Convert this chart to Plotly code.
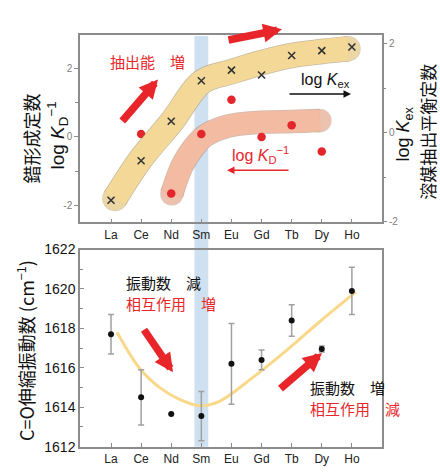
import plotly.graph_objects as go

# ---------------- data ----------------
elements = ["La", "Ce", "Nd", "Sm", "Eu", "Gd", "Tb", "Dy", "Ho"]
elem_idx = list(range(len(elements)))

# top panel: log Kex (right axis, crosses)
log_kex = [-1.52, -0.63, 0.26, 1.17, 1.41, 1.30, 1.74, 1.85, 1.93]
# top panel: log KD^-1 (left axis, red dots), Ce..Dy
kd_idx = [1, 2, 3, 4, 5, 6, 7]
log_kd_inv = [0.09, -1.66, 0.09, 1.09, 0.00, 0.34, -0.43]

# highlight bands (trend guides)
kex_band_x = [0.13, 0.97, 2.03, 3.03, 4.03, 5.0, 6.0, 7.0, 7.87]
kex_band_y = [-1.48, -0.61, 0.26, 1.15, 1.38, 1.58, 1.74, 1.83, 1.89]
kd_band_x = [2.02, 2.36, 2.72, 3.12, 3.85, 4.95, 6.04, 6.94]
kd_band_y = [-1.67, -0.85, -0.34, 0.03, 0.31, 0.43, 0.45, 0.48]

# bottom panel: C=O stretching frequency
freq = [1617.7, 1614.5, 1613.65, 1613.55, 1616.2, 1616.4, 1618.4, 1616.95, 1619.9]
freq_err = [1.0, 1.4, 0.0, 1.25, 2.05, 0.5, 0.8, 0.15, 1.2]
trend_x = [0.2, 0.96, 1.63, 2.29, 2.95, 3.6, 4.7, 5.84, 6.94, 8.13]
trend_y = [1617.8, 1615.95, 1614.98, 1614.39, 1614.08, 1614.3, 1615.5, 1616.9, 1618.35, 1619.85]

# ---------------- styling ----------------
W, H = 440, 473
FR = "#8c8c8c"
RED = "#e8262a"
LAT = "Liberation Sans, Arial, Noto Sans CJK JP"
CJK = "Noto Sans CJK JP, Liberation Sans"


def PX(x):
    return x / W


def PY(y):
    return 1 - y / H


def ends(n, s):
    return [s] + [0] * (n - 2) + [s]


fig = go.Figure()

# yellow band (log Kex) on right axis
fig.add_trace(go.Scatter(x=kex_band_x, y=kex_band_y, xaxis="x", yaxis="y2",
                         mode="lines+markers", line=dict(color="rgba(150,130,90,0.55)", width=25.5, shape="spline"),
                         marker=dict(size=ends(len(kex_band_x), 25.5), color="rgba(150,130,90,0.55)", line=dict(width=0)),
                         hoverinfo="skip", showlegend=False))
fig.add_trace(go.Scatter(x=kex_band_x, y=kex_band_y, xaxis="x", yaxis="y2",
                         mode="lines+markers", line=dict(color="#f3d898", width=24, shape="spline"),
                         marker=dict(size=ends(len(kex_band_x), 24), color="#f3d898", line=dict(width=0)),
                         hoverinfo="skip", showlegend=False))
# salmon band (log KD^-1) on left axis
fig.add_trace(go.Scatter(x=kd_band_x, y=kd_band_y, xaxis="x", yaxis="y",
                         mode="lines+markers", line=dict(color="rgba(160,120,100,0.5)", width=23.5, shape="spline"),
                         marker=dict(size=ends(len(kd_band_x), 23.5), color="rgba(160,120,100,0.5)", line=dict(width=0)),
                         hoverinfo="skip", showlegend=False))
fig.add_trace(go.Scatter(x=kd_band_x, y=kd_band_y, xaxis="x", yaxis="y",
                         mode="lines+markers", line=dict(color="#f2bba2", width=22, shape="spline"),
                         marker=dict(size=ends(len(kd_band_x), 22), color="#f2bba2", line=dict(width=0)),
                         hoverinfo="skip", showlegend=False))

# crosses and red dots
fig.add_trace(go.Scatter(x=elem_idx, y=log_kex, xaxis="x", yaxis="y2", mode="markers",
                         marker=dict(symbol="x-thin", size=7, line=dict(width=1.6, color="#333333")),
                         showlegend=False))
fig.add_trace(go.Scatter(x=kd_idx, y=log_kd_inv, xaxis="x", yaxis="y", mode="markers",
                         marker=dict(size=8.5, color="#e3262b"), showlegend=False))

# bottom panel
fig.add_trace(go.Scatter(x=trend_x, y=trend_y, xaxis="x2", yaxis="y3", mode="lines",
                         line=dict(color="#fad88a", width=3, shape="spline"), showlegend=False))
fig.add_trace(go.Scatter(x=elem_idx, y=freq, xaxis="x2", yaxis="y3", mode="markers",
                         marker=dict(size=6, color="#111111"),
                         error_y=dict(type="data", array=freq_err, visible=True, color="#a0a0a0",
                                      thickness=1.5, width=3),
                         showlegend=False))

xcommon = dict(range=[-1.03, 9.0], tickmode="array", tickvals=elem_idx, ticktext=elements,
               ticks="inside", ticklen=4, tickcolor=FR, tickwidth=1, showline=True, mirror=True,
               linecolor=FR, linewidth=1.5, showgrid=False, zeroline=False,
               tickfont=dict(family=LAT, size=12, color="#222222"), domain=[PX(80), PX(382)])

fig.update_layout(
    width=W, height=H, margin=dict(l=0, r=0, t=0, b=0),
    paper_bgcolor="white", plot_bgcolor="white",
    xaxis=dict(anchor="y", **xcommon),
    xaxis2=dict(anchor="y3", **xcommon),
    yaxis=dict(domain=[PY(222), PY(28)], anchor="x", range=[-2.51, 2.99],
               tickmode="array", tickvals=[-2, 0, 2], ticktext=["-2", "0", "2"],
               ticks="outside", ticklen=4, tickcolor=FR, showline=True, mirror=True,
               linecolor=FR, linewidth=1.5, showgrid=False, zeroline=False,
               minor=dict(tickmode="array", tickvals=[-1, 1], ticks="outside", ticklen=3, tickcolor=FR),
               tickfont=dict(family=LAT, size=10, color="#808080")),
    yaxis2=dict(overlaying="y", side="right", anchor="x", range=[-2.02, 2.2],
                tickmode="array", tickvals=[-2, 0, 2], ticktext=["-2", "0", "2"],
                ticks="outside", ticklen=4, tickcolor=FR, showline=False, showgrid=False, zeroline=False,
                minor=dict(tickmode="array", tickvals=[-1, 1], ticks="outside", ticklen=3, tickcolor=FR),
                tickfont=dict(family=LAT, size=10, color="#808080")),
    yaxis3=dict(domain=[PY(454), PY(250)], anchor="x2", range=[1612, 1622],
                tickmode="array", tickvals=[1612, 1614, 1616, 1618, 1620, 1622],
                ticks="inside", ticklen=4, tickcolor=FR, showline=True, mirror=True,
                linecolor=FR, linewidth=1.5, showgrid=False, zeroline=False,
                minor=dict(tickmode="array", tickvals=[1613, 1615, 1617, 1619, 1621], ticks="inside",
                           ticklen=3, tickcolor=FR),
                tickfont=dict(family=LAT, size=14, color="#111111")),
)

# Sm highlight column spanning both panels
fig.add_shape(type="rect", xref="x", yref="paper", x0=2.77, x1=3.23, y0=PY(454), y1=PY(29),
              fillcolor="#cfe1f0", line=dict(width=0), layer="below")

ann = []


def text(t, x, y, size, color="#111111", family=LAT, angle=0, xanchor="center"):
    ann.append(dict(text=t, x=PX(x), y=PY(y), xref="paper", yref="paper", showarrow=False,
                    font=dict(family=family, size=size, color=color), textangle=angle,
                    xanchor=xanchor, yanchor="middle"))


def arrow(tail, tip, color, width, size, head=2):
    ann.append(dict(text="", x=PX(tip[0]), y=PY(tip[1]), xref="paper", yref="paper",
                    ax=tail[0] - tip[0], ay=tail[1] - tip[1], axref="pixel", ayref="pixel",
                    showarrow=True, arrowhead=head, arrowcolor=color, arrowwidth=width,
                    arrowsize=size, standoff=0))


# axis titles
text("錯形成定数", 31, 135, 18, family=CJK, angle=-90)
text("log <i>K</i><sub>D</sub><sup>−1</sup>", 58, 132, 19, angle=-90)
text("log <i>K</i><sub>ex</sub>", 405, 131, 18, angle=-90)
text("溶媒抽出平衡定数", 428, 128, 17, family=CJK, angle=-90)
text("C=O伸縮振動数 (cm<sup>−1</sup>)", 25, 355, 18, family=CJK, angle=-90)

# in-plot texts
text("抽出能　増", 147, 55, 15, color=RED, family=CJK)
text("log <i>K</i><sub>ex</sub>", 325, 75, 16)
text("log <i>K</i><sub>D</sub><sup>−1</sup>", 260, 152, 16, color=RED)
text("振動数　減", 124, 284, 15, family=CJK, xanchor="left")
text("相互作用　増", 124, 306, 15, color=RED, family=CJK, xanchor="left")
text("振動数　増", 308, 393, 15, family=CJK, xanchor="left")
text("相互作用　減", 308, 415, 15, color=RED, family=CJK, xanchor="left")

# arrows
arrow((121, 117), (158, 74), RED, 7.5, 0.5)
arrow((227, 33), (282, 22), RED, 7.5, 0.5)
arrow((288, 89), (351, 89), "#111111", 1.5, 1.0)
arrow((290, 168), (227, 168), RED, 1.5, 1.0)
arrow((143, 333), (173, 377), RED, 7.5, 0.5)
arrow((279, 394), (322, 357), RED, 7.5, 0.5)

fig.update_layout(annotations=ann)

fig.write_html("out.html", config={"displayModeBar": False},
               post_script="document.body.style.margin='0';")
